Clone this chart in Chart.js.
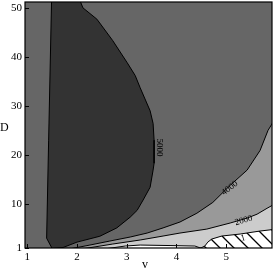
<!DOCTYPE html>
<html>
<head>
<meta charset="utf-8">
<script src="https://cdn.jsdelivr.net/npm/chart.js@4/dist/chart.umd.min.js"></script>
<style>
  html, body { margin: 0; padding: 0; background: #fff; }
  canvas { display: block; }
</style>
</head>
<body>
<canvas id="contour" width="273" height="271"></canvas>
<script>
// --- axis ranges and ticks ---
const vMin = 0.955, vMax = 5.92;
const dMin = 1, dMax = 51.2;
const vTicks = [1, 2, 3, 4, 5];
const dTicks = [1, 10, 20, 30, 40, 50];

// --- contour boundaries (v, D) ---
// region above 5000
const c5000V = [1.49, 2.04, 2.12, 2.40, 2.72, 3.01, 3.17, 3.27, 3.47, 3.53, 3.55, 3.55, 3.53, 3.47, 3.33, 3.21, 3.07, 2.80, 2.46, 2.00, 1.72, 1.50, 1.39, 1.43, 1.49];
const c5000D = [52, 52, 50.0, 47.7, 43.3, 38.8, 36.2, 33.7, 29.0, 26.4, 23.0, 18.3, 16.9, 13.4, 10.8, 8.7, 7.3, 5.1, 3.4, 2.2, 1.1, 0.9, 3.0, 23.0, 52];
// below 4000
const c4000V = [6.1, 5.96, 5.84, 5.68, 5.42, 5.08, 4.73, 4.41, 4.07, 3.73, 3.41, 3.07, 2.66, 2.26, 1.90, 6.1];
const c4000D = [27.0, 27.0, 25.0, 20.9, 16.9, 13.8, 10.3, 8.1, 6.3, 5.1, 4.05, 3.24, 2.42, 1.6, 0.9, 0.9];
// below 2000
const c2000V = [6.1, 5.96, 5.82, 5.62, 5.42, 5.08, 4.61, 4.07, 3.73, 3.27, 2.72, 2.16, 6.1];
const c2000D = [9.9, 9.9, 9.1, 7.9, 7.1, 6.1, 4.86, 4.05, 3.44, 2.63, 1.81, 0.9, 0.9];
// below 1, thin strip on the bottom
const c1StripV = [2.62, 2.97, 3.27, 3.87, 4.37, 4.51, 2.62];
const c1StripD = [0.9, 1.4, 1.6, 1.5, 1.4, 0.9, 0.9];
// below 1, hatched corner
const c1HatchV = [4.47, 4.57, 4.63, 4.71, 4.91, 5.28, 5.68, 6.1, 6.1, 4.47];
const c1HatchD = [0.9, 1.4, 2.2, 2.83, 3.44, 3.85, 4.46, 4.96, 0.9, 0.9];

// --- contour labels ---
const labelText = ['5000', '4000', '2000', '1'];
const labelV = [3.66, 5.07, 5.35, 5.34];
const labelD = [21.5, 13.2, 6.6, 3.0];
const labelAngle = [90, -38, -16, -15];

const toPoints = (vs, ds) => vs.map((v, i) => ({ x: v, y: ds[i] }));

const makeHatch = () => {
    const s = 14;
    const c = document.createElement('canvas');
    c.width = s; c.height = s;
    const g = c.getContext('2d');
    g.fillStyle = '#fff';
    g.fillRect(0, 0, s, s);
    g.strokeStyle = '#000';
    g.lineWidth = 1.3;
    g.beginPath();
    g.moveTo(-1, -1); g.lineTo(s + 1, s + 1);
    g.moveTo(s - 1, -1); g.lineTo(s + 1, 1);
    g.moveTo(-1, s - 1); g.lineTo(1, s + 1);
    g.stroke();
    return g.createPattern(c, 'repeat');
};

// layer: higher layers are painted on top of lower ones
const region = (vs, ds, fillColor, layer) => ({
    data: toPoints(vs, ds),
    showLine: true,
    fill: 'shape',
    backgroundColor: fillColor,
    borderColor: '#000',
    borderWidth: 1,
    pointRadius: 0,
    tension: 0,
    clip: 0,
    order: 10 - layer
});

const serif = 'Liberation Serif, DejaVu Serif, serif';

const noPad = s => { s.paddingTop = 0; s.paddingBottom = 0; s.paddingLeft = 0; s.paddingRight = 0; };

const decoPlugin = {
    id: 'contourDeco',
    beforeDatasetsDraw(chart) {
        const { ctx, chartArea: a } = chart;
        ctx.save();
        ctx.fillStyle = '#666';
        ctx.fillRect(a.left, a.top, a.right - a.left, a.bottom - a.top);
        ctx.restore();
    },
    afterDatasetsDraw(chart) {
        const { ctx, chartArea: a, scales: { x, y } } = chart;
        ctx.save();
        // contour labels
        ctx.fillStyle = '#000';
        ctx.font = '9px ' + serif;
        ctx.textAlign = 'center';
        ctx.textBaseline = 'middle';
        labelText.forEach((t, i) => {
            ctx.save();
            ctx.translate(x.getPixelForValue(labelV[i]), y.getPixelForValue(labelD[i]));
            ctx.rotate(labelAngle[i] * Math.PI / 180);
            ctx.fillText(t, 0, 0);
            ctx.restore();
        });
        // inner tick marks
        ctx.strokeStyle = '#000';
        ctx.lineWidth = 1;
        ctx.beginPath();
        vTicks.forEach(v => {
            const px = Math.round(x.getPixelForValue(v)) + 0.5;
            ctx.moveTo(px, a.bottom); ctx.lineTo(px, a.bottom - 4);
        });
        dTicks.forEach(d => {
            const py = Math.round(y.getPixelForValue(d)) + 0.5;
            ctx.moveTo(a.left, py); ctx.lineTo(a.left + 4, py);
        });
        ctx.stroke();
        // frame
        ctx.lineWidth = 1.2;
        ctx.strokeRect(a.left, a.top, a.right - a.left, a.bottom - a.top);
        ctx.restore();
    },
    afterDraw(chart) {
        const { ctx } = chart;
        ctx.save();
        ctx.fillStyle = '#000';
        ctx.font = '12px ' + serif;
        ctx.textBaseline = 'middle';
        ctx.textAlign = 'center';
        ctx.fillText('v', 145, 265);
        ctx.textAlign = 'left';
        ctx.fillText('D', 0, 128);
        ctx.restore();
    }
};

new Chart(document.getElementById('contour'), {
    type: 'scatter',
    data: {
        datasets: [
            region(c5000V, c5000D, '#333', 1),
            region(c4000V, c4000D, '#999', 2),
            region(c2000V, c2000D, '#ccc', 3),
            region(c1StripV, c1StripD, '#fff', 4),
            region(c1HatchV, c1HatchD, makeHatch(), 5)
        ]
    },
    options: {
        responsive: false,
        devicePixelRatio: 1,
        animation: false,
        layout: { padding: { top: 2, right: 1, left: 0, bottom: 0 } },
        plugins: { legend: { display: false }, tooltip: { enabled: false } },
        scales: {
            x: {
                type: 'linear',
                min: vMin,
                max: vMax,
                afterBuildTicks: s => { s.ticks = vTicks.map(v => ({ value: v })); },
                afterFit: s => { s.height = 23; noPad(s); },
                grid: { display: false, drawTicks: false },
                border: { display: false },
                ticks: { color: '#000', font: { family: serif, size: 11 }, padding: 3, maxRotation: 0, autoSkip: false }
            },
            y: {
                type: 'linear',
                min: dMin,
                max: dMax,
                afterBuildTicks: s => { s.ticks = dTicks.map(d => ({ value: d })); },
                afterFit: s => { s.width = 25; noPad(s); },
                grid: { display: false, drawTicks: false },
                border: { display: false },
                ticks: { color: '#000', font: { family: serif, size: 11 }, padding: 3, autoSkip: false }
            }
        }
    },
    plugins: [decoPlugin]
});
</script>
</body>
</html>
